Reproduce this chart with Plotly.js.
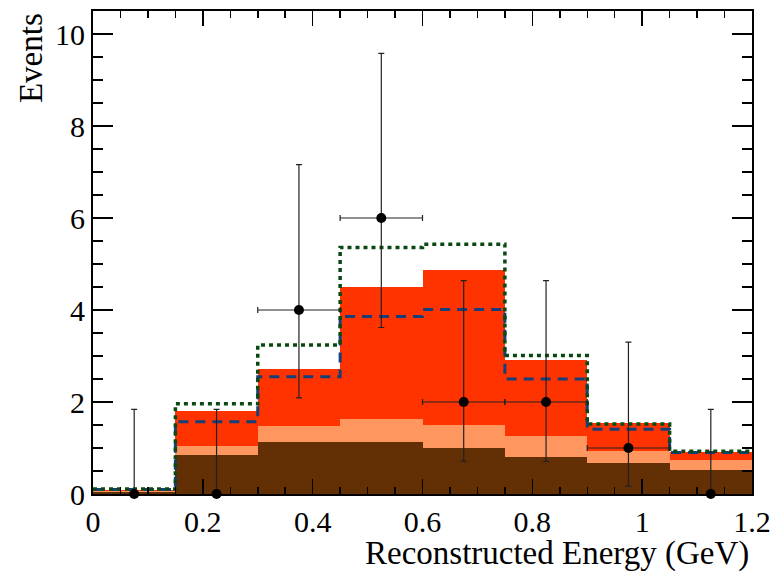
<!DOCTYPE html>
<html>
<head>
<meta charset="utf-8">
<script src="https://cdn.plot.ly/plotly-3.0.1.min.js"></script>
<style>html,body{margin:0;padding:0;background:#fff;}#chart{width:771px;height:574px;}</style>
</head>
<body>
<div id="chart"></div>
<script>
// Bin edges (GeV)
var binEdges = [0, 0.15, 0.3, 0.45, 0.6, 0.75, 0.9, 1.05, 1.2];
// Stacked MC components (events per bin)
var brownComp  = [0.04, 0.85, 1.13, 1.12, 0.99, 0.81, 0.67, 0.52];
var salmonComp = [0.02, 0.20, 0.35, 0.52, 0.52, 0.46, 0.27, 0.22];
var redComp    = [0.03, 0.75, 1.24, 2.85, 3.36, 1.64, 0.61, 0.18];
// Alternative predictions (outlines)
var blueDashed  = [0.10, 1.57, 2.55, 3.86, 4.01, 2.50, 1.41, 0.90];
var greenDotted = [0.11, 1.96, 3.24, 5.36, 5.43, 3.01, 1.52, 0.93];
// Observed data
var dataCounts = [0, 0, 4, 6, 2, 2, 1, 0];
var errUp      = [1.84, 1.84, 3.16, 3.58, 2.64, 2.64, 2.30, 1.84];
var errDown    = [0, 0, 1.91, 2.38, 1.29, 1.29, 0.83, 0];
var xTickVals  = [0, 0.2, 0.4, 0.6, 0.8, 1, 1.2];
var xTickText  = ["0", "0.2", "0.4", "0.6", "0.8", "1", "1.2"];
var yTickVals  = [0, 2, 4, 6, 8, 10];
var yTickText  = ["0", "2", "4", "6", "8", "10"];

var centers = [], widths = [];
for (var i = 0; i < binEdges.length - 1; i++) {
  centers.push((binEdges[i] + binEdges[i + 1]) / 2);
  widths.push(binEdges[i + 1] - binEdges[i]);
}
var halfW = widths.map(function (w, i) { return dataCounts[i] > 0 ? w / 2 : 0; });
function stepY(v) { return v.concat([v[v.length - 1]]); }

function barTrace(vals, color, name) {
  return {type: 'bar', x: centers, y: vals, width: widths, name: name,
    marker: {color: color, line: {width: 0}}, hoverinfo: 'y'};
}

var traces = [
  barTrace(brownComp, '#632f05', 'bkg1'),
  barTrace(salmonComp, '#fe9660', 'bkg2'),
  barTrace(redComp, '#ff3300', 'signal'),
  {type: 'scatter', mode: 'lines', x: binEdges, y: stepY(blueDashed),
    line: {shape: 'hv', color: '#143f78', width: 3, dash: '10px,7px'}, name: 'alt1'},
  {type: 'scatter', mode: 'lines', x: binEdges, y: stepY(greenDotted),
    line: {shape: 'hv', color: '#0a4a12', width: 3.5, dash: '4px,4px'}, name: 'alt2'},
  {type: 'scatter', mode: 'markers', x: centers, y: dataCounts, name: 'data',
    cliponaxis: false,
    marker: {color: '#000', size: 10},
    error_y: {type: 'data', symmetric: false, array: errUp, arrayminus: errDown,
      color: '#222', thickness: 1.2, width: 3},
    error_x: {type: 'data', array: halfW, color: '#222', thickness: 1.2, width: 3}}
];

var serif = 'Liberation Serif';
var axisFont = {family: serif, size: 30, color: '#000'};
var layout = {
  width: 771, height: 574,
  margin: {l: 93, r: 19, t: 11, b: 80, pad: 0},
  paper_bgcolor: '#fff', plot_bgcolor: '#fff',
  showlegend: false,
  barmode: 'stack', bargap: 0,
  xaxis: {range: [0, 1.2], tickvals: xTickVals, ticktext: xTickText,
    ticks: 'inside', ticklen: 15, tickwidth: 1.5, tickcolor: '#000',
    minor: {dtick: 0.05, tick0: 0, ticks: 'inside', ticklen: 7, tickwidth: 1.5, tickcolor: '#000'},
    showline: true, linecolor: '#000', linewidth: 2, mirror: 'ticks',
    showgrid: false, zeroline: false, tickfont: axisFont},
  yaxis: {range: [0, 10.5], tickvals: yTickVals, ticktext: yTickText,
    ticks: 'inside', ticklen: 20, tickwidth: 1.5, tickcolor: '#000',
    minor: {dtick: 0.5, tick0: 0, ticks: 'inside', ticklen: 10, tickwidth: 1.5, tickcolor: '#000'},
    showline: true, linecolor: '#000', linewidth: 2, mirror: 'ticks',
    showgrid: false, zeroline: false, tickfont: axisFont},
  annotations: [
    {text: 'Reconstructed Energy (GeV)', xref: 'paper', yref: 'paper',
      x: 0.9985, y: -0.124, xanchor: 'right', yanchor: 'middle', showarrow: false,
      font: {family: serif, size: 33, color: '#000'}},
    {text: 'Events', xref: 'paper', yref: 'paper', textangle: -90,
      x: -0.094, y: 1.0, xanchor: 'center', yanchor: 'top', showarrow: false,
      font: {family: serif, size: 33, color: '#000'}}
  ]
};

Plotly.newPlot('chart', traces, layout, {displayModeBar: false, staticPlot: true});
</script>
</body>
</html>
